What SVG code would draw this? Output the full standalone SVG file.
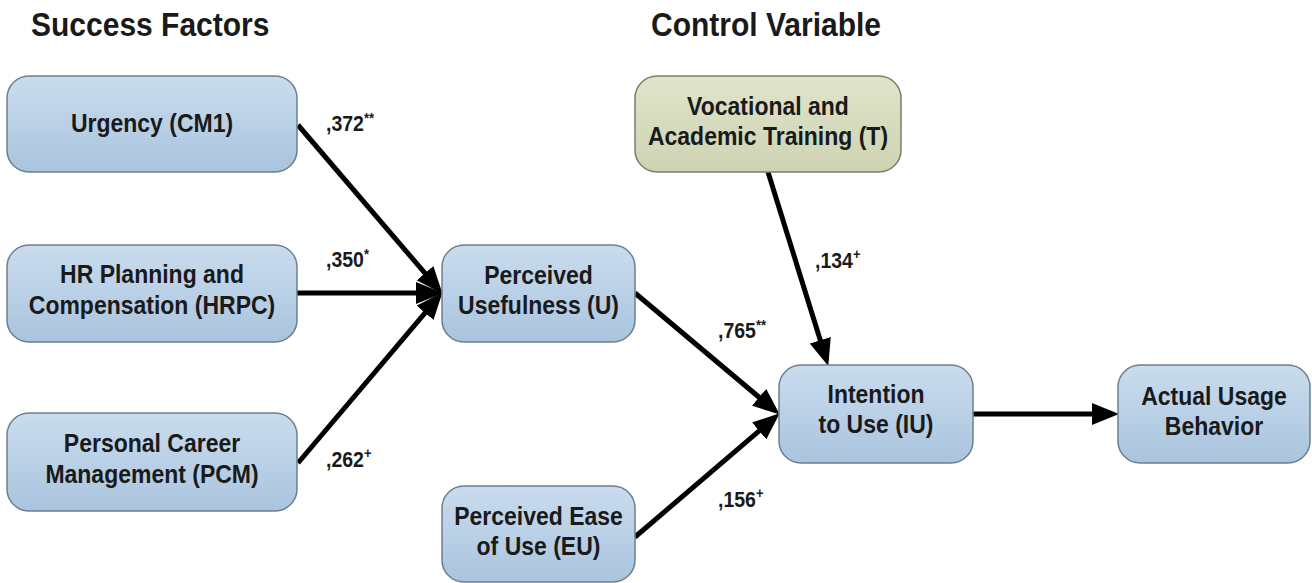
<svg xmlns="http://www.w3.org/2000/svg" width="1312" height="583" viewBox="0 0 1312 583">
<style>
.box{stroke:#6e7f8f;stroke-width:1.5;fill:url(#gb)}
.boxg{stroke:#7a7f6a;stroke-width:1.5;fill:url(#gg)}
.nt{font-family:"Liberation Sans",Arial,sans-serif;font-weight:bold;font-size:23px;fill:#1a1a1a;text-anchor:middle}
.tt{font-family:"Liberation Sans",Arial,sans-serif;font-weight:bold;font-size:30px;fill:#1a1a1a}
.lb{font-family:"Liberation Sans",Arial,sans-serif;font-weight:bold;font-size:19.5px;fill:#1a1a1a}
.sup{font-size:13px}
.cn{stroke:#000;stroke-width:5;fill:none;marker-end:url(#ah)}
</style>
<defs>
<linearGradient id="gb" x1="0" y1="0" x2="0" y2="1">
<stop offset="0" stop-color="#cadcee"/>
<stop offset="1" stop-color="#a9c4de"/>
</linearGradient>
<linearGradient id="gg" x1="0" y1="0" x2="0" y2="1">
<stop offset="0" stop-color="#e0e4cb"/>
<stop offset="1" stop-color="#cdd3b1"/>
</linearGradient>
<marker id="ah" markerUnits="userSpaceOnUse" markerWidth="28" markerHeight="22" refX="20" refY="11" orient="auto">
<path d="M0,0 L27,11 L0,22 Z" fill="#000"/>
</marker>
</defs>
<text class="tt" transform="translate(31,36) scale(1,1.08)">Success Factors</text>
<text class="tt" transform="translate(651,36) scale(1,1.08)">Control Variable</text>
<g id="connectors">
<path class="cn" d="M298,125 L438,288.4"/>
<path class="cn" d="M297,293 L436,293"/>
<path class="cn" d="M298,463 L438,297.6"/>
<path class="cn" d="M635,293 L774.4,410.1"/>
<path class="cn" d="M635,537 L774.4,417.9"/>
<path class="cn" d="M768,172 L826.2,359.3"/>
<path class="cn" d="M973,414 L1112,414"/>
</g>
<g id="labels">
<text class="lb" transform="translate(326,131) scale(1,1.12)">,372<tspan class="sup" dy="-7">**</tspan></text>
<text class="lb" transform="translate(326,267) scale(1,1.12)">,350<tspan class="sup" dy="-7">*</tspan></text>
<text class="lb" transform="translate(326,467) scale(1,1.12)">,262<tspan class="sup" dy="-8">+</tspan></text>
<text class="lb" transform="translate(815,268) scale(1,1.12)">,134<tspan class="sup" dy="-8">+</tspan></text>
<text class="lb" transform="translate(718,338) scale(1,1.12)">,765<tspan class="sup" dy="-7">**</tspan></text>
<text class="lb" transform="translate(718,507) scale(1,1.12)">,156<tspan class="sup" dy="-8">+</tspan></text>
</g>
<g id="n-urgency">
<rect class="box" x="7" y="76" width="290" height="96" rx="22"/>
<text class="nt" transform="translate(152,132) scale(1,1.15)">Urgency (CM1)</text>
</g>
<g id="n-hrpc">
<rect class="box" x="7" y="245" width="290" height="97" rx="22"/>
<text class="nt" transform="translate(152,283) scale(1,1.15)">HR Planning and</text>
<text class="nt" transform="translate(152,314) scale(1,1.15)">Compensation (HRPC)</text>
</g>
<g id="n-pcm">
<rect class="box" x="7" y="413" width="290" height="98" rx="22"/>
<text class="nt" transform="translate(152,452) scale(1,1.15)">Personal Career</text>
<text class="nt" transform="translate(152,483) scale(1,1.15)">Management (PCM)</text>
</g>
<g id="n-pu">
<rect class="box" x="442" y="245" width="193" height="97" rx="22"/>
<text class="nt" transform="translate(538.5,284) scale(1,1.15)">Perceived</text>
<text class="nt" transform="translate(538.5,314) scale(1,1.15)">Usefulness (U)</text>
</g>
<g id="n-eu">
<rect class="box" x="442" y="486" width="193" height="96" rx="22"/>
<text class="nt" transform="translate(538.5,525) scale(1,1.15)">Perceived Ease</text>
<text class="nt" transform="translate(538.5,555) scale(1,1.15)">of Use (EU)</text>
</g>
<g id="n-t">
<rect class="boxg" x="635" y="76" width="266" height="96" rx="22"/>
<text class="nt" transform="translate(768,115) scale(1,1.15)">Vocational and</text>
<text class="nt" transform="translate(768,145) scale(1,1.15)">Academic Training (T)</text>
</g>
<g id="n-iu">
<rect class="box" x="779" y="365" width="194" height="98" rx="22"/>
<text class="nt" transform="translate(876,403) scale(1,1.15)">Intention</text>
<text class="nt" transform="translate(876,433) scale(1,1.15)">to Use (IU)</text>
</g>
<g id="n-aub">
<rect class="box" x="1118" y="365" width="192" height="98" rx="22"/>
<text class="nt" transform="translate(1214,405) scale(1,1.15)">Actual Usage</text>
<text class="nt" transform="translate(1214,435) scale(1,1.15)">Behavior</text>
</g>
</svg>
